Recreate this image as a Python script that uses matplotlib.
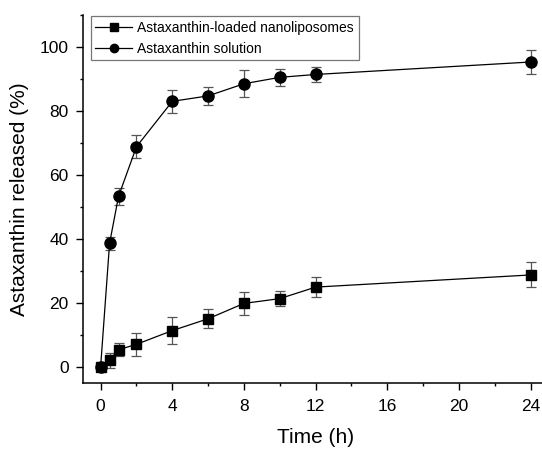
import numpy as np
import matplotlib
matplotlib.use("Agg")
from matplotlib import pyplot as plt
from matplotlib.ticker import MultipleLocator

plt.rcParams['font.family'] = ['Liberation Sans', 'DejaVu Sans']

# sampling times (h)
time_h = [0, 0.5, 1, 2, 4, 6, 8, 10, 12, 24]

# astaxanthin released (%) and error bars
lipo_vals = [0, 2.0, 5.3, 7.0, 11.3, 15.0, 19.8, 21.3, 24.9, 28.7]
lipo_err = [0.5, 2.4, 2.0, 3.6, 4.1, 3.0, 3.7, 2.4, 3.2, 3.9]
sol_vals = [0, 38.6, 53.3, 68.8, 83.0, 84.7, 88.5, 90.5, 91.4, 95.3]
sol_err = [0.5, 2.0, 2.6, 3.6, 3.6, 2.9, 4.2, 2.6, 2.2, 3.7]

labels = ['Astaxanthin-loaded nanoliposomes', 'Astaxanthin solution']
xticks = [0, 4, 8, 12, 16, 20, 24]
yticks = [0, 20, 40, 60, 80, 100]

W, H = 542, 451
fig = plt.figure(figsize=(W / 100, H / 100), dpi=100)
# axes placed in pixel terms, right side runs off the figure like the original
ax = fig.add_axes([82.7 / W, (H - 382.7) / H, 465.9 / W, 367.7 / H])

common = dict(color='black', linewidth=0.9, ecolor='#555555', elinewidth=0.9,
              capsize=3.5, capthick=0.9)
eb1 = ax.errorbar(time_h, lipo_vals, yerr=lipo_err, marker='s', markersize=7, **common)
eb2 = ax.errorbar(time_h, sol_vals, yerr=sol_err, marker='o', markersize=8, **common)

ax.set_xlim(-1, 25)
ax.set_ylim(-5, 110)
ax.set_xticks(xticks)
ax.set_yticks(yticks)
ax.xaxis.set_minor_locator(MultipleLocator(2))
ax.yaxis.set_minor_locator(MultipleLocator(10))
ax.tick_params(which='major', direction='out', length=5, width=1, labelsize=12.5, pad=5)
ax.tick_params(axis='x', which='major', pad=7)
ax.tick_params(which='minor', direction='out', length=2.5, width=1)

for side in ['top', 'right']:
    ax.spines[side].set_visible(False)
for side in ['left', 'bottom']:
    ax.spines[side].set_linewidth(1.1)

ax.set_xlabel('Time (h)', fontsize=15, labelpad=10)
ax.set_ylabel('Astaxanthin released (%)', fontsize=15, labelpad=8)

# legend shows only line + marker, no error bars
leg = ax.legend([eb1[0], eb2[0]], labels, loc='upper left',
                bbox_to_anchor=(0.017, 0.998), fontsize=10,
                frameon=True, fancybox=False, edgecolor='#555555',
                borderpad=0.35, labelspacing=0.5, handlelength=2.6,
                handletextpad=0.4, borderaxespad=0, markerscale=0.75)
leg.get_frame().set_linewidth(0.9)

fig.savefig('out.png', dpi=100)
plt.close(fig)
